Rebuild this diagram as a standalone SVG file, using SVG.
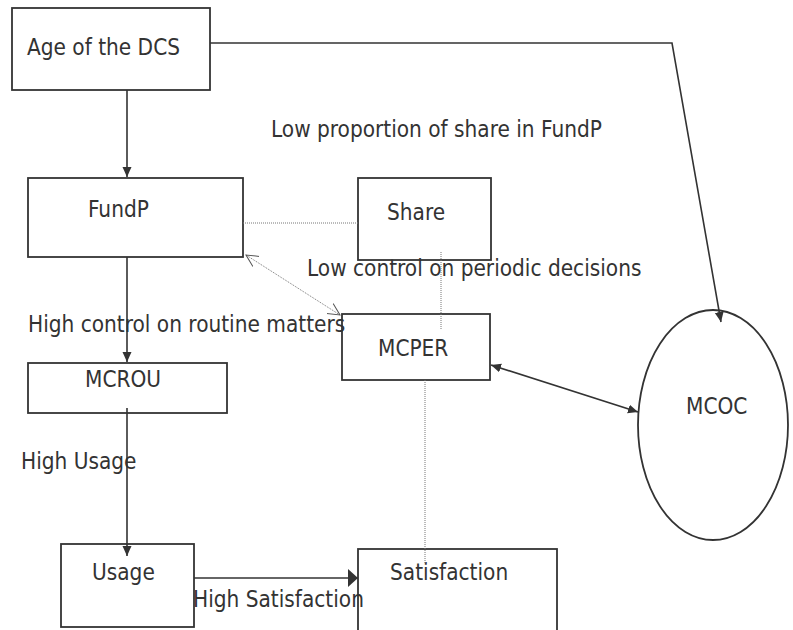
<svg xmlns="http://www.w3.org/2000/svg" width="793" height="630" viewBox="0 0 793 630">
<style>
.box{fill:#fff;stroke:#333;stroke-width:1.8}
.t{font-family:"DejaVu Sans Condensed","DejaVu Sans",sans-serif;font-stretch:condensed;font-size:22.4px;fill:#333}
.ln{fill:none;stroke:#333;stroke-width:1.6}
.dot{fill:none;stroke:#777;stroke-width:1;stroke-dasharray:1 1}
</style>
<defs>
<marker id="ah" markerUnits="userSpaceOnUse" markerWidth="12" markerHeight="10" refX="10" refY="5" orient="auto-start-reverse" viewBox="0 0 12 10">
<path d="M0,0.5 L10,5 L0,9.5 Z" fill="#333"/>
</marker>
<marker id="ahb" markerUnits="userSpaceOnUse" markerWidth="12" markerHeight="20" refX="10" refY="10" orient="auto" viewBox="0 0 12 20">
<path d="M0,1 L10,10 L0,19 Z" fill="#333"/>
</marker>
<marker id="oa" markerUnits="userSpaceOnUse" markerWidth="14" markerHeight="14" refX="12" refY="7" orient="auto-start-reverse" viewBox="0 0 14 14">
<path d="M0,1 L12,7 L0,13" fill="none" stroke="#555" stroke-width="1"/>
</marker>
</defs>
<g id="age"><rect class="box" x="12" y="8" width="198" height="82"/><text class="t" x="27" y="55">Age of the DCS</text></g>
<g id="fundp"><rect class="box" x="28" y="178" width="215" height="79"/><text class="t" x="88" y="217">FundP</text></g>
<g id="share"><rect class="box" x="358" y="178" width="133" height="82"/><text class="t" x="387" y="220">Share</text></g>
<g id="mcper"><rect class="box" x="342" y="314" width="148" height="66"/><text class="t" x="378" y="356">MCPER</text></g>
<g id="mcrou"><rect class="box" x="28" y="363" width="199" height="50"/><text class="t" x="85" y="387">MCROU</text></g>
<g id="usage"><rect class="box" x="61" y="544" width="133" height="83"/><text class="t" x="92" y="580">Usage</text></g>
<g id="satisfaction"><rect class="box" x="358" y="549" width="199" height="90"/><text class="t" x="390" y="580">Satisfaction</text></g>
<g id="mcoc"><ellipse class="box" cx="713" cy="425" rx="75" ry="115"/><text class="t" x="686" y="414">MCOC</text></g>
<g id="labels">
<text class="t" x="271" y="137">Low proportion of share in FundP</text>
<text class="t" x="307" y="276">Low control on periodic decisions</text>
<text class="t" x="28" y="332">High control on routine matters</text>
<text class="t" x="21" y="469">High Usage</text>
<text class="t" x="193" y="607">High Satisfaction</text>
</g>
<g id="connectors">
<path class="ln" d="M127,90 V177" marker-end="url(#ah)"/>
<path class="ln" d="M210,43 H672 L721,322" marker-end="url(#ah)"/>
<path class="dot" d="M243,223 H358"/>
<path class="dot" d="M246,255 L340,315" marker-start="url(#oa)" marker-end="url(#oa)"/>
<path class="dot" d="M441,252 V330"/>
<path class="ln" d="M127,257 V362" marker-end="url(#ah)"/>
<path class="ln" d="M127,408 V556" marker-end="url(#ah)"/>
<path class="ln" d="M194,578 H358" marker-end="url(#ahb)"/>
<path class="ln" d="M491,365 L638,412" marker-start="url(#ah)" marker-end="url(#ah)"/>
<path class="dot" d="M425,380 V563"/>
</g>
</svg>
